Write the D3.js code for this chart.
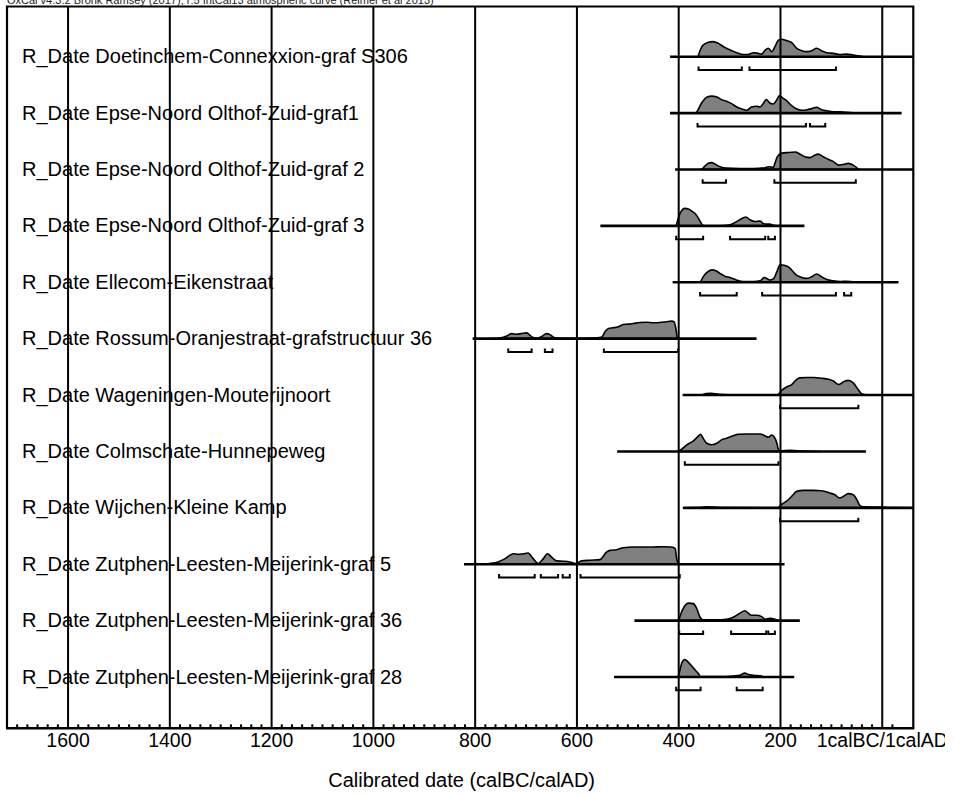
<!DOCTYPE html>
<html>
<head>
<meta charset="utf-8">
<script src="https://cdn.jsdelivr.net/npm/d3@7"></script>
<style>
  body { margin: 0; background: #fff; }
  svg { display: block; font-family: "Liberation Sans", Arial, sans-serif; }
</style>
</head>
<body>
<script>
// years are calBC (positive), AD is negative
const labels = [
  "R_Date Doetinchem-Connexxion-graf S306",
  "R_Date Epse-Noord Olthof-Zuid-graf1",
  "R_Date Epse-Noord Olthof-Zuid-graf 2",
  "R_Date Epse-Noord Olthof-Zuid-graf 3",
  "R_Date Ellecom-Eikenstraat",
  "R_Date Rossum-Oranjestraat-grafstructuur 36",
  "R_Date Wageningen-Mouterijnoort",
  "R_Date Colmschate-Hunnepeweg",
  "R_Date Wijchen-Kleine Kamp",
  "R_Date Zutphen-Leesten-Meijerink-graf 5",
  "R_Date Zutphen-Leesten-Meijerink-graf 36",
  "R_Date Zutphen-Leesten-Meijerink-graf 28"
];

const majorTicks = [1600, 1400, 1200, 1000, 800, 600, 400, 200, 0];

// extent of the horizontal line of each date
const spans = [
  [416, -100], [416, -39], [406, -100], [553, 152], [411, -33], [804, 246],
  [391, -100], [520, 31], [390, -100], [821, 191], [486, 161], [526, 172]
];

// relative probability [year, p]
const dens1 = [[361,0],[360,0.1],[351,0.67],[341,0.82],[331,0.86],[321,0.76],[311,0.57],[298,0.38],[285,0.23],[272,0.13],[262,0.13],[252,0.23],[243,0.19],[236,0.15],[229,0.38],[223,0.48],[216,0.29],[210,0.57],[203,0.95],[197,1.0],[187,0.92],[177,0.8],[167,0.48],[157,0.34],[147,0.29],[138,0.34],[128,0.48],[118,0.34],[108,0.23],[95,0.19],[82,0.13],[69,0.15],[56,0.1],[43,0.04],[35,0]];
const dens2 = [[365,0],[364,0.04],[354,0.58],[344,0.91],[334,0.97],[324,0.92],[315,0.77],[305,0.68],[295,0.54],[285,0.35],[275,0.23],[265,0.16],[256,0.35],[246,0.39],[239,0.35],[233,0.54],[227,0.77],[220,0.58],[213,0.52],[206,0.77],[201,1.0],[195,0.87],[187,0.71],[177,0.42],[167,0.23],[157,0.16],[147,0.19],[138,0.25],[128,0.33],[118,0.19],[108,0.13],[95,0.08],[82,0.08],[69,0.04],[56,0.02],[45,0]];
const dens3 = [[356,0],[354,0.02],[347,0.21],[341,0.35],[334,0.39],[328,0.31],[318,0.16],[305,0.08],[279,0.06],[252,0.06],[229,0.1],[223,0.16],[213,0.12],[210,0.35],[205,0.73],[197,0.92],[184,0.97],[170,1.0],[161,0.88],[151,0.73],[141,0.68],[131,0.83],[125,0.88],[115,0.73],[105,0.58],[95,0.45],[85,0.25],[75,0.29],[66,0.35],[56,0.25],[49,0.1],[46,0.02],[44,0]];
const dens4 = [[404,0],[398,0.61],[393,0.88],[387,1.0],[380,0.96],[372,0.82],[364,0.61],[357,0.27],[352,0.04],[344,0],[318,0],[298,0.06],[288,0.2],[279,0.35],[267,0.51],[259,0.35],[249,0.25],[239,0.27],[233,0.14],[226,0.1],[220,0.1],[213,0.04],[206,0]];
const dens5 = [[362,0],[357,0.02],[351,0.31],[344,0.55],[334,0.71],[326,0.66],[318,0.51],[308,0.35],[298,0.27],[285,0.12],[272,0.04],[252,0.04],[239,0.08],[231,0.27],[226,0.22],[220,0.12],[213,0.19],[206,0.61],[200,1.0],[190,0.96],[180,0.8],[170,0.47],[161,0.31],[148,0.22],[138,0.31],[128,0.47],[118,0.31],[108,0.16],[95,0.08],[82,0.04],[69,0.06],[56,0.02],[48,0]];
const dens6 = [[770,0],[750,0.04],[737,0.15],[727,0.29],[718,0.25],[708,0.29],[698,0.33],[691,0.19],[685,0.06],[678,0.04],[668,0.13],[659,0.29],[652,0.23],[645,0.08],[639,0.04],[606,0.02],[567,0.04],[550,0.1],[544,0.39],[537,0.58],[528,0.62],[518,0.68],[508,0.81],[498,0.83],[488,0.87],[475,0.92],[462,0.94],[449,0.91],[436,0.92],[423,0.97],[413,1.0],[408,0.97],[404,0.48],[402,0.1],[400,0]];
const dens7 = [[390,0],[355,0],[345,0.08],[335,0.1],[320,0.04],[300,0.02],[250,0.01],[205,0],[197,0.26],[187,0.46],[177,0.6],[167,0.9],[161,0.98],[148,1.0],[134,1.0],[118,0.96],[105,0.9],[95,0.8],[85,0.6],[75,0.76],[66,0.84],[56,0.7],[46,0.3],[39,0.06],[30,0.02],[0,0.01],[-20,0]];
const dens8 = [[401,0],[393,0.13],[383,0.38],[370,0.6],[360,0.89],[356,0.98],[351,0.75],[344,0.47],[334,0.38],[324,0.47],[315,0.66],[305,0.75],[292,0.89],[282,0.98],[265,1.0],[249,1.0],[239,1.0],[229,0.89],[223,0.81],[216,0.94],[212,0.85],[206,0.47],[203,0.1],[200,0.04],[180,0.06],[167,0.04],[150,0.02],[120,0]];
const dens9 = [[390,0],[360,0.01],[345,0.06],[330,0.04],[300,0.01],[205,0],[197,0.19],[187,0.38],[177,0.66],[167,0.94],[154,1.0],[134,1.0],[118,0.98],[102,0.85],[92,0.75],[83,0.56],[75,0.66],[66,0.81],[56,0.75],[49,0.47],[43,0.13],[36,0.06],[3,0.04],[-20,0.01],[-60,0]];
const dens10 = [[790,0],[770,0.04],[754,0.13],[740,0.32],[724,0.6],[714,0.56],[704,0.6],[695,0.64],[685,0.32],[675,0.04],[665,0.32],[657,0.6],[649,0.41],[639,0.19],[626,0.17],[613,0.13],[601,0.04],[590,0.19],[573,0.23],[554,0.26],[541,0.69],[534,0.79],[521,0.83],[508,0.94],[488,0.98],[455,0.98],[429,1.0],[413,0.98],[406,0.89],[403,0.32],[400,0.04],[398,0]];
const dens11 = [[402,0],[400,0.02],[393,0.52],[387,0.85],[380,1.0],[370,0.97],[364,0.71],[357,0.19],[351,0.04],[324,0.04],[305,0.08],[292,0.19],[279,0.42],[269,0.56],[262,0.42],[256,0.31],[246,0.31],[236,0.23],[229,0.08],[220,0.13],[210,0.08],[203,0]];
const dens12 = [[402,0],[400,0.05],[393,0.8],[387,1.0],[380,0.84],[370,0.51],[360,0.18],[356,0.02],[324,0.02],[292,0.06],[279,0.1],[269,0.22],[262,0.14],[252,0.1],[236,0.06],[233,0]];
const densities = [dens1, dens2, dens3, dens4, dens5, dens6, dens7, dens8, dens9, dens10, dens11, dens12];

// 95.4% ranges
const ranges = [
  [[360,275],[260,90]],
  [[362,149],[141,111]],
  [[352,306],[211,51]],
  [[404,351],[298,229],[223,210]],
  [[357,285],[235,90],[74,60]],
  [[734,688],[662,647],[546,400]],
  [[200,46]],
  [[387,203]],
  [[200,46]],
  [[752,682],[670,636],[627,613],[592,397]],
  [[398,351],[296,227],[223,210]],
  [[404,356],[285,234]]
];

const width = 945, height = 796;
const frame = { left: 7, right: 913.3, top: 6.5, bottom: 728.3 };

const svg = d3.select("body").append("svg")
  .attr("width", width)
  .attr("height", height);

const x = d3.scaleLinear().domain([1719, -62]).range([frame.left, frame.right]);
const y = d3.scalePoint().domain(d3.range(labels.length)).range([56.7, 677]);
const h = d3.scaleLinear().domain([0, 1]).range([0, 17.5]);

svg.append("defs").append("clipPath").attr("id", "plot")
  .append("rect")
  .attr("x", frame.left).attr("y", frame.top)
  .attr("width", frame.right - frame.left)
  .attr("height", frame.bottom - frame.top);

// title (mostly cut off at the top)
svg.append("text")
  .attr("x", 7).attr("y", 4)
  .attr("font-size", "11px")
  .attr("fill", "#222")
  .text("OxCal v4.3.2 Bronk Ramsey (2017); r:5 IntCal13 atmospheric curve (Reimer et al 2013)");

// row labels
svg.append("g").selectAll("text")
  .data(labels)
  .enter().append("text")
  .attr("x", 22)
  .attr("y", (d, i) => y(i) + 6.6)
  .attr("font-size", "20px")
  .attr("fill", "#000")
  .text(d => d);

const plot = svg.append("g").attr("clip-path", "url(#plot)");

const area = d3.area()
  .x(d => x(d[0]))
  .y0(0)
  .y1(d => -h(d[1]))
  .curve(d3.curveMonotoneX);

const row = plot.selectAll(".row")
  .data(labels.map((d, i) => i))
  .enter().append("g")
  .attr("class", "row")
  .attr("transform", i => `translate(0,${y(i)})`);

row.append("path")
  .attr("d", i => area(densities[i]))
  .attr("fill", "#808080")
  .attr("stroke", "#000")
  .attr("stroke-width", 1.6)
  .attr("stroke-linejoin", "round");

row.append("line")
  .attr("x1", i => x(spans[i][0]))
  .attr("x2", i => x(spans[i][1]))
  .attr("stroke", "#000")
  .attr("stroke-width", 2.6);

row.selectAll(".range")
  .data(i => ranges[i])
  .enter().append("path")
  .attr("class", "range")
  .attr("d", d => `M${x(d[0])},${13.3 - 3.5}V13.3H${x(d[1])}V${13.3 - 3.5}`)
  .attr("fill", "none")
  .attr("stroke", "#000")
  .attr("stroke-width", 2);

// gridlines at the major ticks
svg.append("g")
  .attr("transform", `translate(0,${frame.bottom})`)
  .call(d3.axisTop(x).tickValues(majorTicks).tickSize(frame.bottom - frame.top).tickFormat(""))
  .call(g => g.select(".domain").remove())
  .call(g => g.selectAll("line").attr("stroke", "#000").attr("stroke-width", 2));

// minor ticks
const minorTicks = d3.range(1700, -40, -20).filter(v => v % 200 !== 0);
svg.append("g")
  .attr("transform", `translate(0,${frame.bottom})`)
  .call(d3.axisTop(x).tickValues(minorTicks).tickSize(4).tickFormat(""))
  .call(g => g.select(".domain").remove())
  .call(g => g.selectAll("line").attr("stroke", "#000").attr("stroke-width", 2));

// tick labels
svg.append("g")
  .attr("transform", `translate(0,${frame.bottom})`)
  .call(d3.axisBottom(x).tickValues(majorTicks).tickSize(0).tickPadding(0)
    .tickFormat(d => d === 0 ? "1calBC/1calAD" : d))
  .call(g => g.select(".domain").remove())
  .call(g => g.selectAll("text")
    .attr("y", 18.7).attr("dy", null)
    .attr("font-size", "19.5px")
    .attr("font-family", "'Liberation Sans', Arial, sans-serif")
    .attr("fill", "#000"));

// frame
svg.append("path")
  .attr("d", `M${frame.left},${frame.bottom}V${frame.top}H${frame.right}V${frame.bottom}`)
  .attr("fill", "none")
  .attr("stroke", "#000")
  .attr("stroke-width", 2.2);
svg.append("line")
  .attr("x1", frame.left - 1).attr("x2", frame.right + 1)
  .attr("y1", frame.bottom).attr("y2", frame.bottom)
  .attr("stroke", "#000")
  .attr("stroke-width", 2.6);

// axis title
svg.append("text")
  .attr("x", (frame.left + frame.right) / 2 + 1.5)
  .attr("y", 787)
  .attr("text-anchor", "middle")
  .attr("font-size", "20px")
  .attr("fill", "#000")
  .text("Calibrated date (calBC/calAD)");
</script>
</body>
</html>
